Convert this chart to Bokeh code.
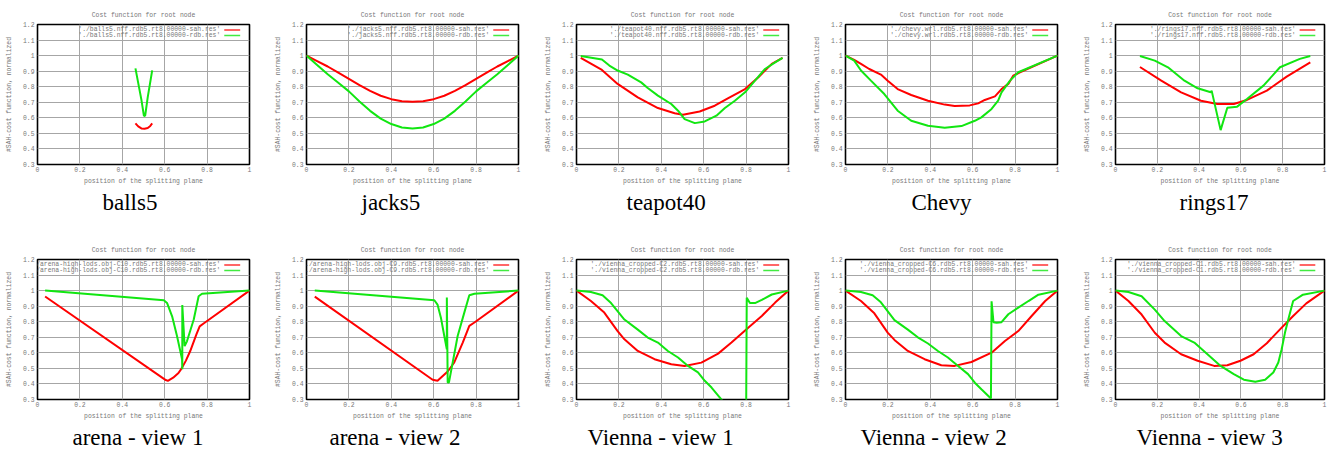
from bokeh.plotting import figure
from bokeh.models import Title, Label, BoxAnnotation, FixedTicker, CustomJSTickFormatter, Range1d
from bokeh.layouts import column, row
from bokeh.embed import file_html
from bokeh.resources import INLINE

# ---------------- data ----------------
plot_title = "Cost function for root node"
x_label = "position of the splitting plane"
y_label = "#SAH-cost function, normalized"
x_ticks = [0, 0.2, 0.4, 0.6, 0.8, 1.0]
y_ticks = [0.3, 0.4, 0.5, 0.6, 0.7, 0.8, 0.9, 1.0, 1.1, 1.2]

captions = ["balls5", "jacks5", "teapot40", "Chevy", "rings17",
            "arena - view 1", "arena - view 2", "Vienna - view 1", "Vienna - view 2", "Vienna - view 3"]
file_stems = ["./balls5.nff", "./jacks5.nff", "./teapot40.nff", "./chevy.wrl", "./rings17.nff",
              "./arena-high-lods.obj-C10", "./arena-high-lods.obj-C9",
              "./vienna_cropped-C2", "./vienna_cropped-C6", "./vienna_cropped-C1"]

balls5_sah_x = [0.462, 0.475, 0.49, 0.505, 0.52, 0.532, 0.541]
balls5_sah_y = [0.564, 0.545, 0.532, 0.530, 0.535, 0.548, 0.564]
balls5_rdb_x = [0.462, 0.475, 0.49, 0.502, 0.508, 0.52, 0.532, 0.541]
balls5_rdb_y = [0.918, 0.825, 0.717, 0.612, 0.615, 0.733, 0.831, 0.905]

jacks5_x = [0, 0.05, 0.1, 0.15, 0.2, 0.25, 0.3, 0.35, 0.4, 0.45, 0.5, 0.55, 0.6, 0.65, 0.7, 0.75, 0.8, 0.85, 0.9, 0.95, 1.0]
jacks5_sah_y = [1.0, 0.965, 0.93, 0.89, 0.85, 0.81, 0.773, 0.742, 0.72, 0.707, 0.703, 0.707, 0.72, 0.742, 0.773, 0.81, 0.85, 0.89, 0.93, 0.965, 1.0]
jacks5_rdb_y = [1.0, 0.94, 0.88, 0.825, 0.77, 0.705, 0.645, 0.595, 0.56, 0.538, 0.532, 0.538, 0.56, 0.595, 0.645, 0.705, 0.77, 0.825, 0.88, 0.94, 1.0]

teapot40_sah_x = [0.02, 0.12, 0.194, 0.289, 0.384, 0.463, 0.502, 0.581, 0.652, 0.716, 0.795, 0.858, 0.921, 0.972]
teapot40_sah_y = [0.985, 0.908, 0.818, 0.732, 0.663, 0.629, 0.62, 0.641, 0.678, 0.727, 0.785, 0.861, 0.947, 0.985]
teapot40_rdb_x = [0.02, 0.12, 0.155, 0.194, 0.242, 0.305, 0.336, 0.384, 0.447, 0.479, 0.51, 0.558, 0.605, 0.66, 0.70, 0.747, 0.795, 0.842, 0.889, 0.937, 0.972]
teapot40_rdb_y = [0.998, 0.975, 0.936, 0.904, 0.878, 0.828, 0.792, 0.743, 0.689, 0.646, 0.592, 0.566, 0.577, 0.614, 0.663, 0.71, 0.764, 0.839, 0.914, 0.957, 0.985]

chevy_sah_x = [0, 0.041, 0.073, 0.112, 0.167, 0.199, 0.246, 0.31, 0.389, 0.468, 0.515, 0.586, 0.626, 0.657, 0.705, 0.736, 0.768, 0.791, 0.823, 1.0]
chevy_sah_y = [1.0, 0.972, 0.947, 0.914, 0.878, 0.839, 0.785, 0.747, 0.71, 0.685, 0.676, 0.68, 0.693, 0.715, 0.738, 0.785, 0.818, 0.871, 0.893, 1.0]
chevy_rdb_x = [0, 0.041, 0.073, 0.12, 0.183, 0.246, 0.31, 0.389, 0.468, 0.547, 0.61, 0.641, 0.689, 0.72, 0.736, 0.776, 0.815, 1.0]
chevy_rdb_y = [1.0, 0.968, 0.904, 0.839, 0.753, 0.646, 0.581, 0.549, 0.536, 0.547, 0.581, 0.603, 0.657, 0.71, 0.764, 0.839, 0.893, 1.0]

rings17_sah_x = [0.117, 0.219, 0.314, 0.409, 0.487, 0.566, 0.629, 0.724, 0.819, 0.932]
rings17_sah_y = [0.927, 0.839, 0.764, 0.71, 0.689, 0.689, 0.715, 0.775, 0.865, 0.957]
rings17_rdb_x = [0.117, 0.188, 0.251, 0.33, 0.393, 0.456, 0.46, 0.503, 0.535, 0.582, 0.629, 0.708, 0.787, 0.882, 0.932]
rings17_rdb_y = [0.998, 0.968, 0.925, 0.839, 0.79, 0.764, 0.775, 0.521, 0.665, 0.672, 0.721, 0.807, 0.925, 0.979, 0.998]

arena1_sah_x = [0.036, 0.605, 0.615, 0.64, 0.665, 0.68, 0.70, 0.72, 0.75, 0.765, 0.785, 1.0]
arena1_sah_y = [0.962, 0.425, 0.42, 0.44, 0.47, 0.50, 0.55, 0.61, 0.72, 0.77, 0.79, 1.0]
arena1_rdb_x = [0.036, 0.596, 0.611, 0.635, 0.658, 0.682, 0.683, 0.683, 0.694, 0.705, 0.737, 0.76, 0.776, 1.0]
arena1_rdb_y = [1.0, 0.938, 0.921, 0.835, 0.708, 0.558, 0.494, 0.907, 0.643, 0.674, 0.814, 0.964, 0.98, 1.0]

arena2_sah_x = [0.039, 0.595, 0.618, 0.666, 0.697, 0.737, 0.768, 0.792, 1.0]
arena2_sah_y = [0.961, 0.427, 0.42, 0.48, 0.538, 0.666, 0.773, 0.795, 1.0]
arena2_rdb_x = [0.039, 0.603, 0.618, 0.634, 0.65, 0.662, 0.662, 0.666, 0.672, 0.713, 0.744, 0.768, 0.792, 1.0]
arena2_rdb_y = [1.0, 0.938, 0.91, 0.826, 0.708, 0.623, 0.955, 0.41, 0.41, 0.708, 0.857, 0.97, 0.98, 1.0]

vienna1_sah_x = [0, 0.068, 0.131, 0.194, 0.226, 0.289, 0.368, 0.447, 0.51, 0.589, 0.668, 0.731, 0.81, 0.874, 0.937, 1.0]
vienna1_sah_y = [1.0, 0.933, 0.859, 0.74, 0.687, 0.612, 0.559, 0.527, 0.516, 0.537, 0.595, 0.666, 0.762, 0.837, 0.923, 1.0]
vienna1_rdb_x = [0, 0.068, 0.123, 0.163, 0.226, 0.289, 0.336, 0.384, 0.431, 0.479, 0.526, 0.573, 0.605, 0.637, 0.72, 0.80, 0.803, 0.818, 0.842, 0.874, 0.921, 1.0]
vienna1_rdb_y = [1.0, 0.991, 0.97, 0.92, 0.814, 0.749, 0.698, 0.666, 0.612, 0.57, 0.516, 0.474, 0.42, 0.377, 0.24, 0.15, 0.954, 0.92, 0.92, 0.94, 0.975, 1.0]

vienna2_sah_x = [0, 0.073, 0.136, 0.199, 0.231, 0.294, 0.373, 0.452, 0.515, 0.594, 0.689, 0.752, 0.815, 0.878, 0.942, 1.0]
vienna2_sah_y = [1.0, 0.933, 0.854, 0.73, 0.683, 0.612, 0.559, 0.52, 0.516, 0.541, 0.601, 0.676, 0.74, 0.837, 0.933, 1.0]
vienna2_rdb_x = [0, 0.073, 0.128, 0.167, 0.231, 0.294, 0.341, 0.389, 0.436, 0.483, 0.531, 0.578, 0.61, 0.641, 0.686, 0.689, 0.698, 0.713, 0.736, 0.768, 0.815, 0.863, 0.91, 1.0]
vienna2_rdb_y = [1.0, 0.991, 0.97, 0.925, 0.81, 0.749, 0.70, 0.66, 0.612, 0.57, 0.516, 0.463, 0.408, 0.366, 0.306, 0.931, 0.797, 0.793, 0.797, 0.848, 0.891, 0.933, 0.974, 1.0]

vienna3_sah_x = [0, 0.062, 0.125, 0.188, 0.235, 0.314, 0.393, 0.472, 0.535, 0.598, 0.661, 0.724, 0.787, 0.85, 0.913, 1.0]
vienna3_sah_y = [1.0, 0.933, 0.846, 0.729, 0.666, 0.591, 0.549, 0.516, 0.52, 0.549, 0.591, 0.662, 0.751, 0.837, 0.918, 1.0]
vienna3_rdb_x = [0, 0.062, 0.125, 0.188, 0.235, 0.314, 0.377, 0.44, 0.503, 0.566, 0.614, 0.669, 0.716, 0.755, 0.779, 0.795, 0.811, 0.831, 0.85, 0.897, 1.0]
vienna3_rdb_y = [1.0, 0.991, 0.964, 0.878, 0.804, 0.708, 0.666, 0.591, 0.516, 0.463, 0.427, 0.414, 0.427, 0.474, 0.538, 0.623, 0.73, 0.837, 0.933, 0.974, 1.0]

sah_series = [(balls5_sah_x, balls5_sah_y), (jacks5_x, jacks5_sah_y), (teapot40_sah_x, teapot40_sah_y),
              (chevy_sah_x, chevy_sah_y), (rings17_sah_x, rings17_sah_y),
              (arena1_sah_x, arena1_sah_y), (arena2_sah_x, arena2_sah_y),
              (vienna1_sah_x, vienna1_sah_y), (vienna2_sah_x, vienna2_sah_y), (vienna3_sah_x, vienna3_sah_y)]
rdb_series = [(balls5_rdb_x, balls5_rdb_y), (jacks5_x, jacks5_rdb_y), (teapot40_rdb_x, teapot40_rdb_y),
              (chevy_rdb_x, chevy_rdb_y), (rings17_rdb_x, rings17_rdb_y),
              (arena1_rdb_x, arena1_rdb_y), (arena2_rdb_x, arena2_rdb_y),
              (vienna1_rdb_x, vienna1_rdb_y), (vienna2_rdb_x, vienna2_rdb_y), (vienna3_rdb_x, vienna3_rdb_y)]

# ---------------- style / layout ----------------
RED = "#ff0000"
GREEN = "#11e611"
GRAY_TXT = "#777777"
MONO = "Liberation Mono"
SERIF = "Liberation Serif"
SMALL = "6.4px"

FRAME_W = 212
col_widths = [270, 270, 270, 270, 262]
col_left = [37, 36, 36, 35, 32]
row_height = 226
row_borders = [(24, 62), (33, 53)]
caption_left = [65, 55, 50, 66, 64, 35, 23, 11, 15, 21]


def make_panel(i):
    r, c = divmod(i, 5)
    top_b, bot_b = row_borders[r]
    w = col_widths[c]
    p = figure(width=w, height=row_height, output_backend="svg", toolbar_location=None,
               x_range=Range1d(0, 1), y_range=Range1d(0.3, 1.2),
               min_border_left=col_left[c], min_border_right=w - col_left[c] - FRAME_W,
               min_border_top=top_b, min_border_bottom=bot_b,
               background_fill_color="white", border_fill_color="white")
    p.title.text = plot_title
    p.title.align = "center"
    p.title.text_font = MONO
    p.title.text_font_size = SMALL
    p.title.text_font_style = "normal"
    p.title.text_color = GRAY_TXT
    p.title.standoff = 12

    p.xaxis.ticker = FixedTicker(ticks=x_ticks)
    p.yaxis.ticker = FixedTicker(ticks=y_ticks)
    p.xaxis.formatter = CustomJSTickFormatter(code="return String(Math.round(tick*10)/10)")
    p.yaxis.formatter = CustomJSTickFormatter(code="return String(Math.round(tick*10)/10)")
    for ax in (p.xaxis[0], p.yaxis[0]):
        ax.axis_line_color = None
        ax.major_tick_line_color = None
        ax.minor_tick_line_color = None
        ax.major_tick_out = 0
        ax.major_tick_in = 0
        ax.minor_tick_out = 0
        ax.minor_tick_in = 0
        ax.major_label_text_font = MONO
        ax.major_label_text_font_size = SMALL
        ax.major_label_text_color = GRAY_TXT
        ax.axis_label_text_font = MONO
        ax.axis_label_text_font_size = SMALL
        ax.axis_label_text_font_style = "normal"
        ax.axis_label_text_color = GRAY_TXT
    p.xaxis.major_label_standoff = 2
    p.yaxis.major_label_standoff = 3
    p.xaxis.axis_label = x_label
    p.yaxis.axis_label = y_label
    p.xaxis.axis_label_standoff = 3
    p.yaxis.axis_label_standoff = 7

    p.grid.grid_line_color = "#a6a6a6"
    p.grid.grid_line_width = 1
    p.outline_line_color = "black"
    p.outline_line_width = 1.6

    sx, sy = sah_series[i]
    rx, ry = rdb_series[i]
    p.line(sx, sy, line_color=RED, line_width=2)
    p.line(rx, ry, line_color=GREEN, line_width=2)

    # gnuplot-style key: text right aligned, sample line on the right
    stem = file_stems[i]
    for k, (suffix, col) in enumerate([("sah", RED), ("rdb", GREEN)]):
        yk = 1.165 - k * 0.036
        p.add_layout(Label(x=0.862, y=yk, text="'%s.rdb5.rt8.00000-%s.res'" % (stem, suffix),
                           text_align="right", text_baseline="middle",
                           text_font=MONO, text_font_size=SMALL, text_color=GRAY_TXT))
        p.add_layout(BoxAnnotation(left=0.881, right=0.956, bottom=yk - 0.005, top=yk + 0.005,
                                   fill_color=col, fill_alpha=0.8, line_color=None))

    cap = Title(text=captions[i], align="left", text_font=SERIF, text_font_size="23px",
                text_font_style="normal", text_color="black", offset=caption_left[i], standoff=0)
    p.add_layout(cap, "below")
    return p


panels = [make_panel(i) for i in range(10)]
layout = column(row(*panels[:5]), row(*panels[5:]))

open("out.html", "w").write(file_html(layout, INLINE))
